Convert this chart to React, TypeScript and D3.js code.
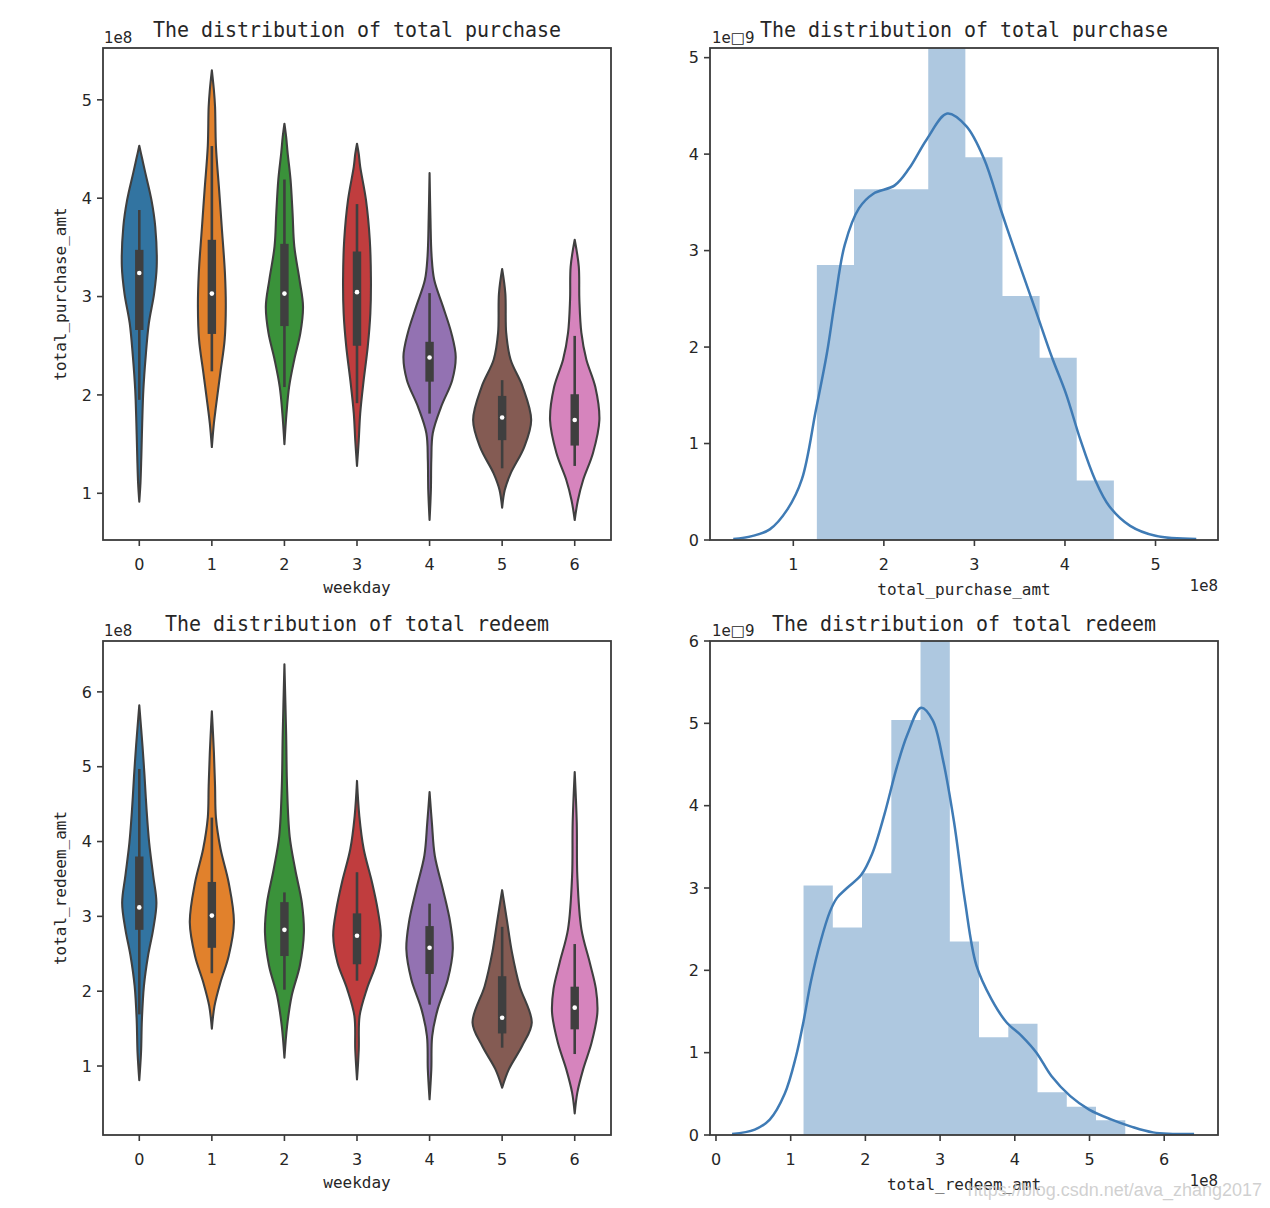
import React from "react";
import * as d3 from "d3";

// ---------------- data ----------------
const WEEKDAYS = [0, 1, 2, 3, 4, 5, 6];
const WEEKDAY_COLORS = ["#3274a1", "#e1812c", "#3a923a", "#c03d3e", "#9372b2", "#845b53", "#d684bd"];

// violin density profiles: [amount (1e8), relative density]
const purchaseDensity: [number, number][][] = [
  [[4.533, 0], [4.4, 0.1], [4.255, 0.21], [3.98, 0.42], [3.71, 0.55], [3.305, 0.6], [3.03, 0.51], [2.73, 0.33], [2.39, 0.22], [2.05, 0.14], [1.71, 0.1], [1.37, 0.07], [1.1, 0.04], [0.915, 0]],
  [[5.3, 0], [5.1, 0.07], [4.93, 0.11], [4.53, 0.14], [4.085, 0.25], [3.71, 0.34], [3.24, 0.45], [2.9, 0.48], [2.56, 0.44], [2.22, 0.29], [1.88, 0.14], [1.71, 0.07], [1.47, 0]],
  [[4.757, 0], [4.62, 0.06], [4.46, 0.11], [4.19, 0.21], [3.85, 0.28], [3.51, 0.34], [3.17, 0.52], [2.9, 0.64], [2.63, 0.55], [2.36, 0.34], [2.08, 0.16], [1.81, 0.07], [1.5, 0]],
  [[4.553, 0], [4.45, 0.06], [4.32, 0.11], [3.98, 0.31], [3.577, 0.44], [3.17, 0.48], [2.83, 0.46], [2.49, 0.37], [2.15, 0.23], [1.81, 0.11], [1.54, 0.06], [1.278, 0]],
  [[4.255, 0], [3.8, 0.03], [3.41, 0.07], [3.17, 0.16], [2.9, 0.46], [2.63, 0.75], [2.39, 0.9], [2.15, 0.78], [1.88, 0.4], [1.61, 0.11], [1.34, 0.06], [1.03, 0.045], [0.728, 0]],
  [[3.28, 0], [3.03, 0.11], [2.63, 0.14], [2.36, 0.29], [2.08, 0.71], [1.745, 1.0], [1.47, 0.76], [1.2, 0.29], [1.034, 0.09], [0.853, 0]],
  [[3.577, 0], [3.305, 0.14], [2.97, 0.16], [2.63, 0.23], [2.36, 0.4], [2.08, 0.71], [1.745, 0.85], [1.41, 0.63], [1.135, 0.29], [0.93, 0.11], [0.728, 0]],
];
// [whisker low, q1, median, q3, whisker high] (1e8)
const purchaseStats: number[][] = [
  [1.95, 2.66, 3.24, 3.475, 3.88],
  [2.24, 2.62, 3.03, 3.577, 4.53],
  [2.08, 2.7, 3.03, 3.536, 4.19],
  [1.916, 2.5, 3.045, 3.458, 3.94],
  [1.81, 2.135, 2.38, 2.54, 3.035],
  [1.254, 1.54, 1.77, 1.99, 2.15],
  [1.278, 1.485, 1.745, 2.007, 2.6],
];

const redeemDensity: [number, number][][] = [
  [[5.82, 0], [5.28, 0.11], [4.88, 0.18], [4.43, 0.25], [3.985, 0.34], [3.54, 0.48], [3.18, 0.59], [2.83, 0.48], [2.47, 0.3], [2.07, 0.16], [1.62, 0.09], [1.18, 0.06], [0.81, 0]],
  [[5.74, 0], [5.19, 0.07], [4.74, 0.11], [4.32, 0.14], [3.9, 0.3], [3.45, 0.58], [2.92, 0.76], [2.47, 0.58], [2.11, 0.29], [1.8, 0.09], [1.5, 0]],
  [[6.37, 0], [5.41, 0.06], [4.74, 0.09], [4.07, 0.18], [3.63, 0.37], [3.18, 0.6], [2.78, 0.67], [2.34, 0.53], [1.94, 0.25], [1.53, 0.09], [1.11, 0]],
  [[4.81, 0], [4.34, 0.08], [3.9, 0.23], [3.45, 0.52], [3.095, 0.71], [2.74, 0.82], [2.38, 0.67], [2.03, 0.34], [1.67, 0.09], [1.22, 0.06], [0.82, 0]],
  [[4.66, 0], [4.25, 0.08], [3.81, 0.18], [3.36, 0.46], [2.92, 0.71], [2.56, 0.8], [2.16, 0.63], [1.76, 0.28], [1.4, 0.09], [0.955, 0.06], [0.555, 0]],
  [[3.35, 0], [2.96, 0.16], [2.515, 0.34], [2.07, 0.6], [1.58, 1.02], [1.27, 0.69], [0.955, 0.23], [0.71, 0]],
  [[4.93, 0], [4.25, 0.07], [3.54, 0.09], [2.83, 0.23], [2.38, 0.52], [2.03, 0.73], [1.71, 0.78], [1.31, 0.58], [0.955, 0.29], [0.645, 0.09], [0.367, 0]],
];
const redeemStats: number[][] = [
  [1.69, 2.82, 3.12, 3.8, 4.97],
  [2.24, 2.58, 3.01, 3.46, 4.32],
  [2.02, 2.47, 2.82, 3.19, 3.32],
  [2.14, 2.36, 2.74, 3.04, 3.59],
  [1.82, 2.23, 2.58, 2.87, 3.17],
  [1.245, 1.435, 1.645, 2.2, 2.86],
  [1.16, 1.49, 1.78, 2.06, 2.63],
];

// histograms: bin edges (1e8) and densities (1e-9)
const purchaseBinEdges = [1.26, 1.67, 2.08, 2.49, 2.9, 3.31, 3.72, 4.13, 4.54];
const purchaseBinHeights = [2.85, 3.635, 3.635, 5.27, 3.967, 2.53, 1.888, 0.617];
const purchaseKde: [number, number][] = [
  [0.337, 0.01], [0.542, 0.04], [0.74, 0.11], [0.937, 0.32], [1.095, 0.63], [1.25, 1.35], [1.37, 1.93], [1.46, 2.48],
  [1.568, 3.06], [1.726, 3.44], [1.884, 3.59], [2.12, 3.676], [2.278, 3.85], [2.475, 4.155], [2.7, 4.42], [2.91, 4.29],
  [3.107, 3.95], [3.3, 3.4], [3.5, 2.85], [3.68, 2.37], [3.856, 1.894], [4.01, 1.52], [4.17, 1.04], [4.33, 0.63],
  [4.49, 0.35], [4.72, 0.147], [5.0, 0.044], [5.45, 0.01],
];

const redeemBinEdges = [1.172, 1.564, 1.955, 2.347, 2.738, 3.13, 3.521, 3.913, 4.304, 4.696, 5.087, 5.479];
const redeemBinHeights = [3.03, 2.52, 3.18, 5.04, 6.2, 2.35, 1.186, 1.35, 0.52, 0.342, 0.179];
const redeemKde: [number, number][] = [
  [0.216, 0.012], [0.518, 0.065], [0.72, 0.187], [0.92, 0.5], [1.07, 0.95], [1.172, 1.38], [1.27, 1.86], [1.4, 2.35],
  [1.524, 2.71], [1.62, 2.88], [1.754, 3.0], [1.945, 3.16], [2.088, 3.41], [2.255, 3.895], [2.42, 4.466], [2.565, 4.87],
  [2.746, 5.19], [2.9, 5.04], [3.04, 4.55], [3.185, 3.81], [3.33, 2.86], [3.486, 2.06], [3.687, 1.65], [3.888, 1.37],
  [4.09, 1.205], [4.29, 1.0], [4.49, 0.716], [4.743, 0.472], [4.995, 0.309], [5.297, 0.187], [5.548, 0.105],
  [5.85, 0.032], [6.4, 0.012],
];

// ticks
const purchaseViolinTicks = [1, 2, 3, 4, 5];
const redeemViolinTicks = [1, 2, 3, 4, 5, 6];
const purchaseHistXTicks = [1, 2, 3, 4, 5];
const purchaseHistYTicks = [0, 1, 2, 3, 4, 5];
const redeemHistXTicks = [0, 1, 2, 3, 4, 5, 6];
const redeemHistYTicks = [0, 1, 2, 3, 4, 5, 6];

// ---------------- styles ----------------
const MONO = "'DejaVu Sans Mono', 'Liberation Mono', monospace";
const SANS = "'DejaVu Sans', 'Liberation Sans', sans-serif";
const SPINE = "#3a3a3a";
const TEXT = "#262626";
const GRAY = "#3f3f3f";
const HIST_COLOR = "#3f7bb5";

type Box = { x0: number; x1: number; y0: number; y1: number };

function Frame({ box }: { box: Box }) {
  return (
    <rect x={box.x0} y={box.y0} width={box.x1 - box.x0} height={box.y1 - box.y0} fill="none" stroke={SPINE} strokeWidth={1.8} />
  );
}

function YTicks({ box, y, ticks }: { box: Box; y: d3.ScaleLinear<number, number>; ticks: number[] }) {
  return (
    <g>
      {ticks.map((t) => (
        <g key={t}>
          <line x1={box.x0 - 6} x2={box.x0} y1={y(t)} y2={y(t)} stroke={SPINE} strokeWidth={1.6} />
          <text x={box.x0 - 11} y={y(t)} dy="0.36em" textAnchor="end" fontFamily={SANS} fontSize={16} fill={TEXT}>
            {t}
          </text>
        </g>
      ))}
    </g>
  );
}

function XTicks({ box, xs, labels }: { box: Box; xs: number[]; labels: string[] }) {
  return (
    <g>
      {xs.map((px, i) => (
        <g key={i}>
          <line x1={px} x2={px} y1={box.y1} y2={box.y1 + 6} stroke={SPINE} strokeWidth={1.6} />
          <text x={px} y={box.y1 + 30} textAnchor="middle" fontFamily={SANS} fontSize={16} fill={TEXT}>
            {labels[i]}
          </text>
        </g>
      ))}
    </g>
  );
}

function Title({ box, text, dy }: { box: Box; text: string; dy: number }) {
  return (
    <text
      x={(box.x0 + box.x1) / 2}
      y={box.y0 - dy}
      textAnchor="middle"
      fontFamily={MONO}
      fontSize={22}
      fill={TEXT}
      textLength={text.length * 12}
      lengthAdjust="spacingAndGlyphs"
    >
      {text}
    </text>
  );
}

function ViolinPanel({
  box, yDomain, yTicks, densities, stats, title, yLabel, titleDy,
}: {
  box: Box; yDomain: [number, number]; yTicks: number[]; densities: [number, number][][]; stats: number[][];
  title: string; yLabel: string; titleDy: number;
}) {
  const x = d3.scaleBand<number>().domain(WEEKDAYS).range([box.x0, box.x1]).padding(0);
  const step = x.step();
  const w = d3.scaleLinear().domain([0, 1]).range([0, 0.4 * step]);
  const y = d3.scaleLinear().domain(yDomain).range([box.y1, box.y0]);
  const cx = (d: number) => (x(d) as number) + x.bandwidth() / 2;
  const cy = (box.y0 + box.y1) / 2;

  return (
    <g>
      {WEEKDAYS.map((d, i) => {
        const c = cx(d);
        const area = d3
          .area<[number, number]>()
          .y((p) => y(p[0]))
          .x0((p) => c - w(p[1]))
          .x1((p) => c + w(p[1]))
          .curve(d3.curveCatmullRom.alpha(0.5));
        const s = stats[i];
        return (
          <g key={d}>
            <path d={area(densities[i]) || ""} fill={WEEKDAY_COLORS[i]} stroke={GRAY} strokeWidth={2.1} strokeLinejoin="round" />
            <line x1={c} x2={c} y1={y(s[0])} y2={y(s[4])} stroke={GRAY} strokeWidth={2.6} />
            <rect x={c - 4.2} width={8.4} y={y(s[3])} height={y(s[1]) - y(s[3])} fill={GRAY} />
            <circle cx={c} cy={y(s[2])} r={2.3} fill="white" />
          </g>
        );
      })}
      <Frame box={box} />
      <YTicks box={box} y={y} ticks={yTicks} />
      <XTicks box={box} xs={WEEKDAYS.map(cx)} labels={WEEKDAYS.map(String)} />
      <Title box={box} text={title} dy={titleDy} />
      <text x={box.x0 + 1} y={box.y0 - 5} fontFamily={SANS} fontSize={15} fill={TEXT}>1e8</text>
      <text transform={`translate(${box.x0 - 37},${cy}) rotate(-90)`} textAnchor="middle" fontFamily={MONO} fontSize={16} fill={TEXT}>
        {yLabel}
      </text>
      <text x={(box.x0 + box.x1) / 2} y={box.y1 + 53} textAnchor="middle" fontFamily={MONO} fontSize={16} fill={TEXT}>
        weekday
      </text>
    </g>
  );
}

function HistPanel({
  box, xDomain, yDomain, xTicks, yTicks, edges, heights, kde, title, xLabel, titleDy, clipId,
}: {
  box: Box; xDomain: [number, number]; yDomain: [number, number]; xTicks: number[]; yTicks: number[];
  edges: number[]; heights: number[]; kde: [number, number][]; title: string; xLabel: string; titleDy: number; clipId: string;
}) {
  const x = d3.scaleLinear().domain(xDomain).range([box.x0, box.x1]);
  const y = d3.scaleLinear().domain(yDomain).range([box.y1, box.y0]);
  const line = d3
    .line<[number, number]>()
    .x((p) => x(p[0]))
    .y((p) => y(p[1]))
    .curve(d3.curveCatmullRom.alpha(0.5));
  // all bars in one path so adjacent bars merge without seams
  const bars = d3.path();
  heights.forEach((h, i) => {
    bars.rect(x(edges[i]), y(h), x(edges[i + 1]) - x(edges[i]), y(0) - y(h));
  });
  return (
    <g>
      <defs>
        <clipPath id={clipId}>
          <rect x={box.x0} y={box.y0} width={box.x1 - box.x0} height={box.y1 - box.y0} />
        </clipPath>
      </defs>
      <g clipPath={`url(#${clipId})`}>
        <path d={bars.toString()} fill={HIST_COLOR} fillOpacity={0.42} fillRule="nonzero" />
        <path d={line(kde) || ""} fill="none" stroke={HIST_COLOR} strokeWidth={2.5} />
      </g>
      <Frame box={box} />
      <YTicks box={box} y={y} ticks={yTicks} />
      <XTicks box={box} xs={xTicks.map((t) => x(t))} labels={xTicks.map(String)} />
      <Title box={box} text={title} dy={titleDy} />
      <text x={box.x0 + 2} y={box.y0 - 5} fontFamily={SANS} fontSize={15} fill={TEXT}>1e□9</text>
      <text x={(box.x0 + box.x1) / 2} y={box.y1 + 55} textAnchor="middle" fontFamily={MONO} fontSize={16} fill={TEXT}>
        {xLabel}
      </text>
      <text x={box.x1} y={box.y1 + 51} textAnchor="end" fontFamily={SANS} fontSize={15} fill={TEXT}>1e8</text>
    </g>
  );
}

export default function App() {
  const TL: Box = { x0: 103, x1: 611, y0: 48, y1: 540 };
  const TR: Box = { x0: 710, x1: 1218, y0: 48, y1: 540 };
  const BL: Box = { x0: 103, x1: 611, y0: 641, y1: 1135 };
  const BR: Box = { x0: 710, x1: 1218, y0: 641, y1: 1135 };
  return (
    <svg
      width={1270}
      height={1208}
      viewBox="0 0 1270 1208"
      style={{ position: "absolute", left: 0, top: 0, display: "block", background: "white" }}
    >
      <rect x={0} y={0} width={1270} height={1208} fill="white" />
      <ViolinPanel
        box={TL}
        yDomain={[0.525, 5.527]}
        yTicks={purchaseViolinTicks}
        densities={purchaseDensity}
        stats={purchaseStats}
        title="The distribution of total purchase"
        yLabel="total_purchase_amt"
        titleDy={11}
      />
      <HistPanel
        box={TR}
        xDomain={[0.08, 5.69]}
        yDomain={[0, 5.1]}
        xTicks={purchaseHistXTicks}
        yTicks={purchaseHistYTicks}
        edges={purchaseBinEdges}
        heights={purchaseBinHeights}
        kde={purchaseKde}
        title="The distribution of total purchase"
        xLabel="total_purchase_amt"
        titleDy={11}
        clipId="clipTR"
      />
      <ViolinPanel
        box={BL}
        yDomain={[0.078, 6.68]}
        yTicks={redeemViolinTicks}
        densities={redeemDensity}
        stats={redeemStats}
        title="The distribution of total redeem"
        yLabel="total_redeem_amt"
        titleDy={10}
      />
      <HistPanel
        box={BR}
        xDomain={[-0.08, 6.72]}
        yDomain={[0, 6.0]}
        xTicks={redeemHistXTicks}
        yTicks={redeemHistYTicks}
        edges={redeemBinEdges}
        heights={redeemBinHeights}
        kde={redeemKde}
        title="The distribution of total redeem"
        xLabel="total_redeem_amt"
        titleDy={10}
        clipId="clipBR"
      />
      <text x={1262} y={1196} textAnchor="end" fontFamily="'Liberation Sans', Arial, sans-serif" fontSize={18} fill="#c8c8c8" fillOpacity={0.85}>
        https://blog.csdn.net/ava_zhang2017
      </text>
    </svg>
  );
}
